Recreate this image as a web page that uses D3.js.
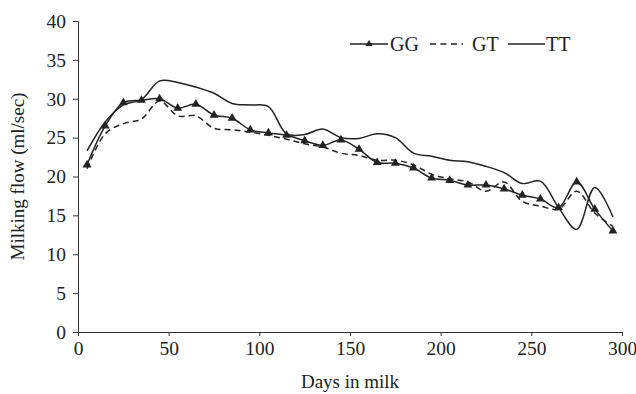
<!DOCTYPE html>
<html>
<head>
<meta charset="utf-8">
<script src="https://cdn.jsdelivr.net/npm/d3@7"></script>
<style>
  body { margin: 0; background: #fff; }
  text { font-family: "Liberation Serif", "Times New Roman", serif; fill: #222; }
</style>
</head>
<body>
<div id="main"></div>
<script>
const days = [5, 15, 25, 35, 45, 55, 65, 75, 85, 95, 105, 115, 125, 135, 145, 155, 165, 175, 185, 195, 205, 215, 225, 235, 245, 255, 265, 275, 285, 295];
const gg = [21.5, 26.5, 29.5, 29.8, 30.0, 28.8, 29.3, 27.9, 27.5, 26.0, 25.6, 25.3, 24.6, 24.0, 24.7, 23.5, 21.8, 21.7, 21.1, 19.8, 19.5, 18.9, 18.9, 18.4, 17.6, 17.1, 16.0, 19.3, 15.8, 13.0];
const gt = [21.0, 25.5, 26.8, 27.4, 29.7, 27.8, 27.8, 26.2, 26.0, 25.7, 25.3, 24.8, 24.2, 23.8, 23.0, 22.7, 22.1, 22.1, 21.5, 20.3, 19.7, 19.3, 18.1, 19.3, 16.8, 16.2, 15.8, 18.1, 15.3, 13.6];
const tt = [23.3, 27.0, 29.2, 29.9, 32.3, 32.1, 31.5, 30.7, 29.4, 29.2, 29.0, 25.5, 25.4, 26.1, 25.0, 24.9, 25.5, 25.0, 23.0, 22.6, 22.1, 21.9, 21.3, 20.5, 19.1, 19.4, 16.0, 13.2, 18.6, 14.8];
const xTicks = [0, 50, 100, 150, 200, 250, 300];
const yTicks = [0, 5, 10, 15, 20, 25, 30, 35, 40];

const width = 636, height = 394;
const margin = { left: 78, right: 14, top: 21, bottom: 62 };

const svg = d3.select('#main').append('svg')
    .attr('width', width)
    .attr('height', height);

const x = d3.scaleLinear().domain([0, 300]).range([margin.left, width - margin.right]);
const y = d3.scaleLinear().domain([0, 40]).range([height - margin.bottom, margin.top]);

// axes
const xAxis = svg.append('g')
    .attr('transform', `translate(0, ${y(0)})`)
    .call(d3.axisBottom(x).tickValues(xTicks).tickSize(4).tickPadding(5).tickSizeOuter(0));
const yAxis = svg.append('g')
    .attr('transform', `translate(${x(0)}, 0)`)
    .call(d3.axisLeft(y).tickValues(yTicks).tickSize(5).tickPadding(7).tickSizeOuter(0));
[xAxis, yAxis].forEach(a => {
    a.selectAll('path, line').attr('stroke', '#333').attr('stroke-width', 1);
    a.selectAll('text').attr('fill', '#222')
        .style('font-size', '19.5px')
        .style('font-family', '"Liberation Serif", serif');
});

svg.append('text')
    .attr('x', (x(0) + x(300)) / 2)
    .attr('y', 388)
    .attr('text-anchor', 'middle')
    .style('font-size', '19px')
    .text('Days in milk');
svg.append('text')
    .attr('transform', `translate(24, ${(y(0) + y(40)) / 2}) rotate(-90)`)
    .attr('text-anchor', 'middle')
    .style('font-size', '19px')
    .text('Milking flow (ml/sec)');

const line = (vals) => d3.line()
    .x((d, i) => x(days[i]))
    .y(d => y(d))
    .curve(d3.curveCatmullRom.alpha(0.5))(vals);

const chart = svg.append('g');
chart.append('path').attr('d', line(tt))
    .attr('fill', 'none').attr('stroke', '#222').attr('stroke-width', 1.5);
chart.append('path').attr('d', line(gt))
    .attr('fill', 'none').attr('stroke', '#222').attr('stroke-width', 1.5)
    .attr('stroke-dasharray', '6,4');
chart.append('path').attr('d', line(gg))
    .attr('fill', 'none').attr('stroke', '#222').attr('stroke-width', 1.5);

const tri = d3.symbol().type(d3.symbolTriangle).size(34);
chart.selectAll('path.mk')
    .data(gg)
    .enter()
    .append('path')
    .attr('class', 'mk')
    .attr('d', tri)
    .attr('transform', (d, i) => `translate(${x(days[i])}, ${y(d)})`)
    .attr('fill', '#222');

// legend
const lg = svg.append('g');
const ly = 44;
lg.append('line').attr('x1', 350).attr('x2', 388).attr('y1', ly).attr('y2', ly)
    .attr('stroke', '#222').attr('stroke-width', 1.5);
lg.append('path').attr('d', d3.symbol().type(d3.symbolTriangle).size(22))
    .attr('transform', `translate(369, ${ly})`).attr('fill', '#222');
lg.append('text').attr('x', 390).attr('y', ly + 7).style('font-size', '20px').text('GG');
lg.append('line').attr('x1', 430).attr('x2', 463).attr('y1', ly).attr('y2', ly)
    .attr('stroke', '#222').attr('stroke-width', 1.5).attr('stroke-dasharray', '6,4.5');
lg.append('text').attr('x', 472).attr('y', ly + 7).style('font-size', '20px').text('GT');
lg.append('line').attr('x1', 508).attr('x2', 545).attr('y1', ly).attr('y2', ly)
    .attr('stroke', '#222').attr('stroke-width', 1.5);
lg.append('text').attr('x', 546).attr('y', ly + 7).style('font-size', '20px').text('TT');
</script>
</body>
</html>
